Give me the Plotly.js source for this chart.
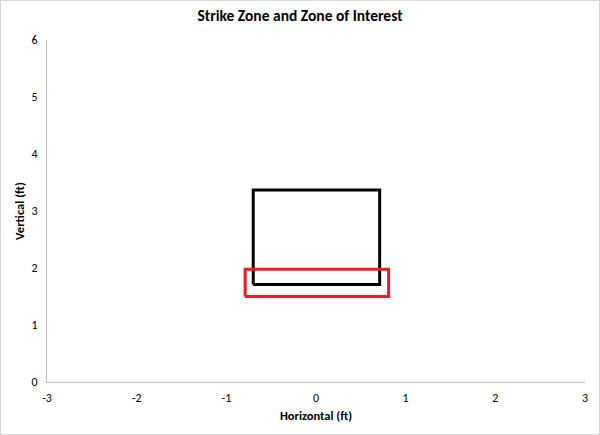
<!DOCTYPE html>
<html><head><meta charset="utf-8">
<script src="https://cdn.plot.ly/plotly-3.0.1.min.js"></script>
<style>html,body{margin:0;padding:0;background:#fff;}
#chart{width:600px;height:435px;box-sizing:border-box;border:1px solid #d9d9d9;}</style>
</head><body><div id="chart"></div>
<script>
// Strike zone rectangle (corners, closed)
const strikeZoneX = [-0.70, 0.71, 0.71, -0.70, -0.70];
const strikeZoneY = [1.71, 1.71, 3.37, 3.37, 1.71];
// Zone of interest rectangle (corners, closed)
const interestX = [-0.79, 0.81, 0.81, -0.79, -0.79];
const interestY = [1.50, 1.50, 1.98, 1.98, 1.50];
const xTicks = [-3, -2, -1, 0, 1, 2, 3];
const yTicks = [0, 1, 2, 3, 4, 5, 6];

const font = "Carlito, Calibri, 'Open Sans', 'Liberation Sans', sans-serif";
const traces = [
  {x: strikeZoneX, y: strikeZoneY, mode: 'lines', line: {color: '#000000', width: 3}, name: 'Strike Zone'},
  {x: interestX, y: interestY, mode: 'lines', line: {color: '#ED1C24', width: 3}, name: 'Zone of Interest'}
];
const layout = {
  width: 598, height: 433,
  margin: {l: 46, r: 14, t: 39, b: 52},
  paper_bgcolor: '#ffffff', plot_bgcolor: '#ffffff',
  showlegend: false,
  font: {family: font, size: 12, color: '#000'},
  title: {text: '<b>Strike Zone and Zone of Interest</b>', x: 0.5, xanchor: 'center', y: 0.978, yanchor: 'top', font: {size: 15.5, family: font, color: '#000'}},
  xaxis: {range: [-3, 3], tickvals: xTicks, ticktext: xTicks.map(String), showgrid: false, zeroline: false,
    showline: true, linecolor: '#bfbfbf', linewidth: 1, ticks: 'outside', ticklen: 5, tickcolor: 'rgba(0,0,0,0)', tickfont: {size: 12, color: '#000'},
    title: {text: '<b>Horizontal (ft)</b>', font: {size: 12.5, color: '#000'}, standoff: 6}},
  yaxis: {range: [0, 6], tickvals: yTicks, ticktext: yTicks.map(String), showgrid: false, zeroline: false,
    showline: true, linecolor: '#bfbfbf', linewidth: 1, ticks: 'outside', ticklen: 6, tickcolor: 'rgba(0,0,0,0)', tickfont: {size: 12, color: '#000'},
    title: {text: '<b>Vertical (ft)</b>', font: {size: 12.5, color: '#000'}, standoff: 4}}
};
Plotly.newPlot('chart', traces, layout, {displayModeBar: false, staticPlot: true});
</script></body></html>
